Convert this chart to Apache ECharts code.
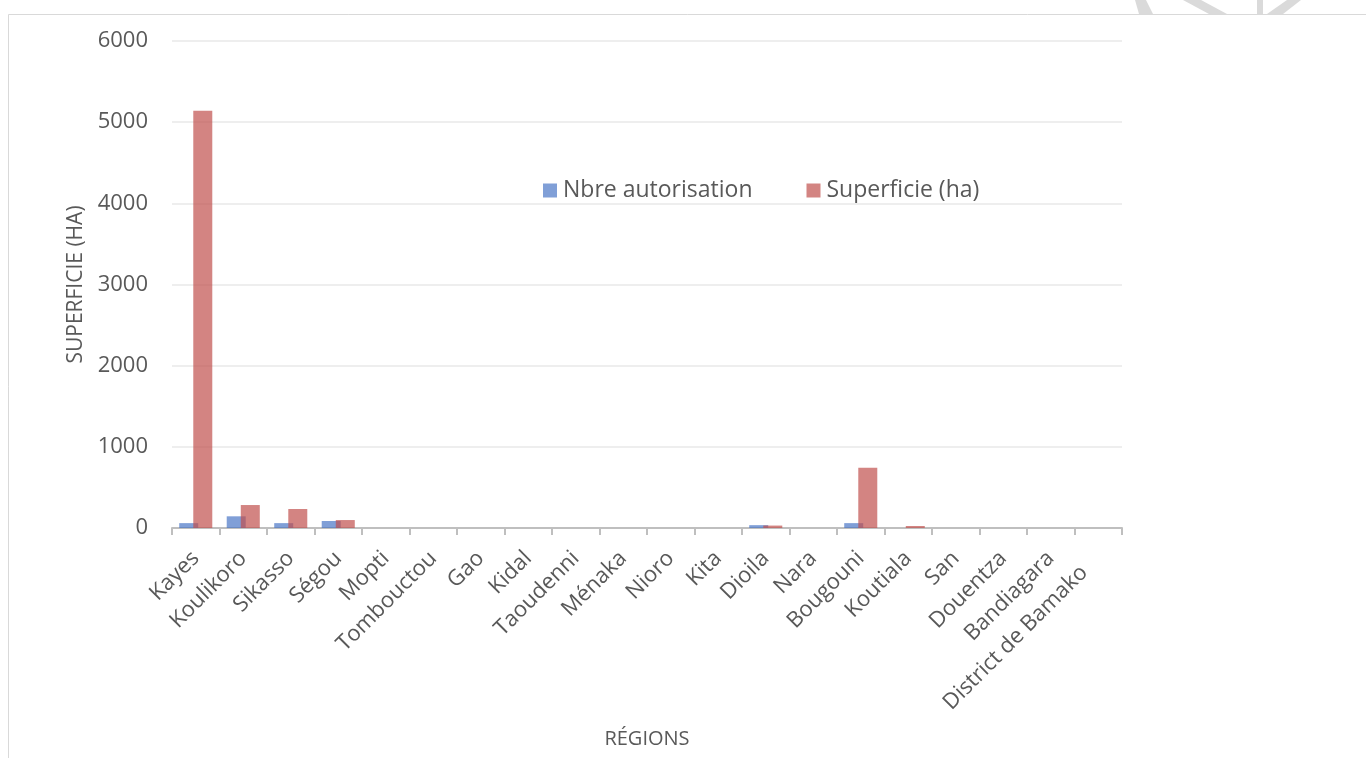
<!DOCTYPE html>
<html>
<head>
<meta charset="utf-8">
<script src="https://cdn.jsdelivr.net/npm/echarts@6/dist/echarts.min.js"></script>
<style>
html,body{margin:0;padding:0;background:#fff;}
#chart{width:1366px;height:758px;}
</style>
</head>
<body>
<div id="chart"></div>
<script>
const categories = ["Kayes","Koulikoro","Sikasso","Ségou","Mopti","Tombouctou","Gao","Kidal","Taoudenni","Ménaka","Nioro","Kita","Dioila","Nara","Bougouni","Koutiala","San","Douentza","Bandiagara","District de Bamako"];
const nbreAutorisation = [60,144,60,86,0,0,0,0,0,0,0,0,35,0,60,0,0,0,0,0];
const superficie = [5140,283,234,98,0,0,0,0,0,0,0,0,30,0,743,25,0,0,0,0];
const yTicks = [0,1000,2000,3000,4000,5000,6000];

const FONT = "Open Sans";
const chart = echarts.init(document.getElementById('chart'), null, {renderer:'canvas'});
const wm = '#dadada';
chart.setOption({
  animation:false,
  backgroundColor:'#fff',
  textStyle:{fontFamily:FONT},
  graphic:[
    {type:'rect', shape:{x:8.5,y:14.5,width:1400,height:800}, style:{fill:'none',stroke:'#d9d9d9',lineWidth:1}, z:-1},
    {type:'polygon', shape:{points:[[1135,0],[1146,0],[1153,14],[1139,14]]}, style:{fill:wm}},
    {type:'polygon', shape:{points:[[1183,0],[1201,0],[1227,14],[1209,14]]}, style:{fill:wm}},
    {type:'polygon', shape:{points:[[1257,0],[1263,0],[1263,14],[1257,14]]}, style:{fill:wm}},
    {type:'polygon', shape:{points:[[1287,0],[1301,0],[1283,14],[1267,14]]}, style:{fill:wm}}
  ],
  legend:{
    left:538, top:174,
    itemWidth:14, itemHeight:14, itemGap:54,
    icon:'rect',
    textStyle:{fontFamily:FONT, fontSize:23, color:'#595959', padding:[0,0,0,1]},
    data:['Nbre autorisation','Superficie (ha)']
  },
  grid:{left:172, right:244, top:41, bottom:230, containLabel:false},
  xAxis:{
    type:'category',
    data:categories,
    name:'RÉGIONS',
    nameLocation:'middle',
    nameGap:201,
    nameTextStyle:{fontFamily:FONT, fontSize:20, color:'#595959'},
    axisLine:{lineStyle:{color:'#bfbfbf', width:2}},
    axisTick:{show:true, alignWithLabel:false, length:7, lineStyle:{color:'#bfbfbf', width:2}},
    axisLabel:{rotate:45, interval:0, fontFamily:FONT, fontSize:22, color:'#595959', margin:27,
      formatter:function(v, i){return i === categories.length-1 ? '{last|'+v+'}' : v;},
      rich:{last:{fontFamily:FONT, fontSize:22, color:'#595959', padding:[0,20,0,0]}}
    }
  },
  yAxis:{
    type:'value',
    min:0, max:6000, interval:1000,
    name:'SUPERFICIE (HA)',
    nameLocation:'middle',
    nameGap:85,
    nameRotate:90,
    nameTextStyle:{fontFamily:FONT, fontSize:21, color:'#595959'},
    axisLine:{show:false},
    axisTick:{show:false},
    splitLine:{lineStyle:{color:'#eeeeee', width:2}},
    axisLabel:{fontFamily:FONT, fontSize:22, color:'#595959', margin:24,
      formatter:function(v){return yTicks.indexOf(v)>=0?String(v):'';}}
  },
  series:[
    {name:'Nbre autorisation', type:'bar', data:nbreAutorisation, barWidth:19, barGap:'-26%',
      itemStyle:{color:'rgba(68,114,196,0.68)'}},
    {name:'Superficie (ha)', type:'bar', data:superficie, barWidth:19, barGap:'-26%',
      itemStyle:{color:'rgba(192,80,77,0.7)'}}
  ]
});
</script>
</body>
</html>
